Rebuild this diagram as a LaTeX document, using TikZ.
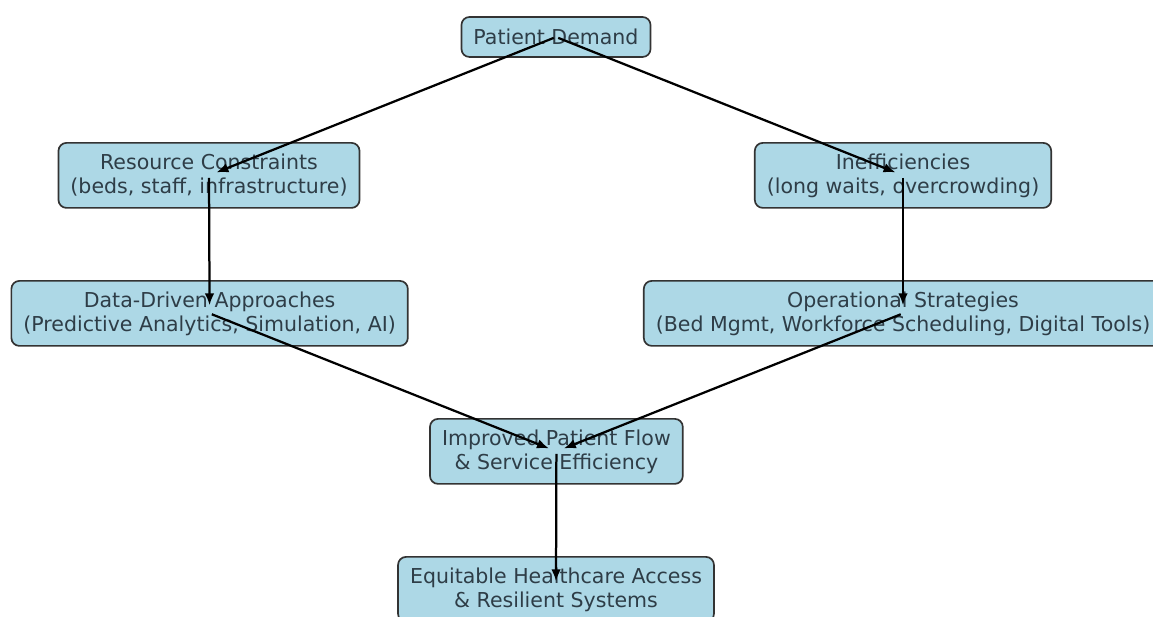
\documentclass[tikz,border=0pt]{standalone}
\usepackage{fontspec}
\setmainfont{DejaVu Sans}
\usetikzlibrary{calc, arrows.meta}
\definecolor{boxfill}{HTML}{ADD8E6}
\definecolor{boxline}{HTML}{333333}
\definecolor{boxtext}{HTML}{2E3D47}

\begin{document}
\begin{tikzpicture}[
        box/.style={draw=boxline, line width=1.2pt, fill=boxfill, rounded corners=0.2cm,
            align=center, text=boxtext, inner xsep=0.3cm, font=\fontsize{14.6}{17}\selectfont},
        onebox/.style={box, minimum height=1.0cm},
        twobox/.style={box, minimum height=1.625cm},
        flow/.style={-{Latex[length=0.3cm,width=0.24cm]}, line width=1.6pt, black,
            shorten >=0.2cm, shorten <=0.06cm}
    ]
            \useasboundingbox (0,0) rectangle (28.825,15.425);
            \node[onebox] (dem) at (13.9,14.5) {Patient Demand};
            \node[twobox] (res) at (5.225,11.04) {Resource Constraints\\(beds, staff, infrastructure)};
            \node[twobox] (ineff) at (22.575,11.04) {Inefficiencies\\(long waits, overcrowding)};
            \node[twobox] (data) at (5.24,7.59) {Data-Driven Approaches\\(Predictive Analytics, Simulation, AI)};
            \node[twobox] (oper) at (22.575,7.59) {Operational Strategies\\(Bed Mgmt, Workforce Scheduling, Digital Tools)};
            \node[twobox] (flow) at (13.91,4.14) {Improved Patient Flow\\\& Service Efficiency};
            \node[twobox] (equi) at (13.9,0.69) {Equitable Healthcare Access\\\& Resilient Systems};
            \draw[flow] (dem.center)--(res.center);
            \draw[flow] (dem.center)--(ineff.center);
            \draw[flow] (res.center)--(data.center);
            \draw[flow] (ineff.center)--(oper.center);
            \draw[flow] (data.center)--(flow.center);
            \draw[flow] (oper.center)--(flow.center);
            \draw[flow] (flow.center)--(equi.center);
        \end{tikzpicture}
\end{document}
